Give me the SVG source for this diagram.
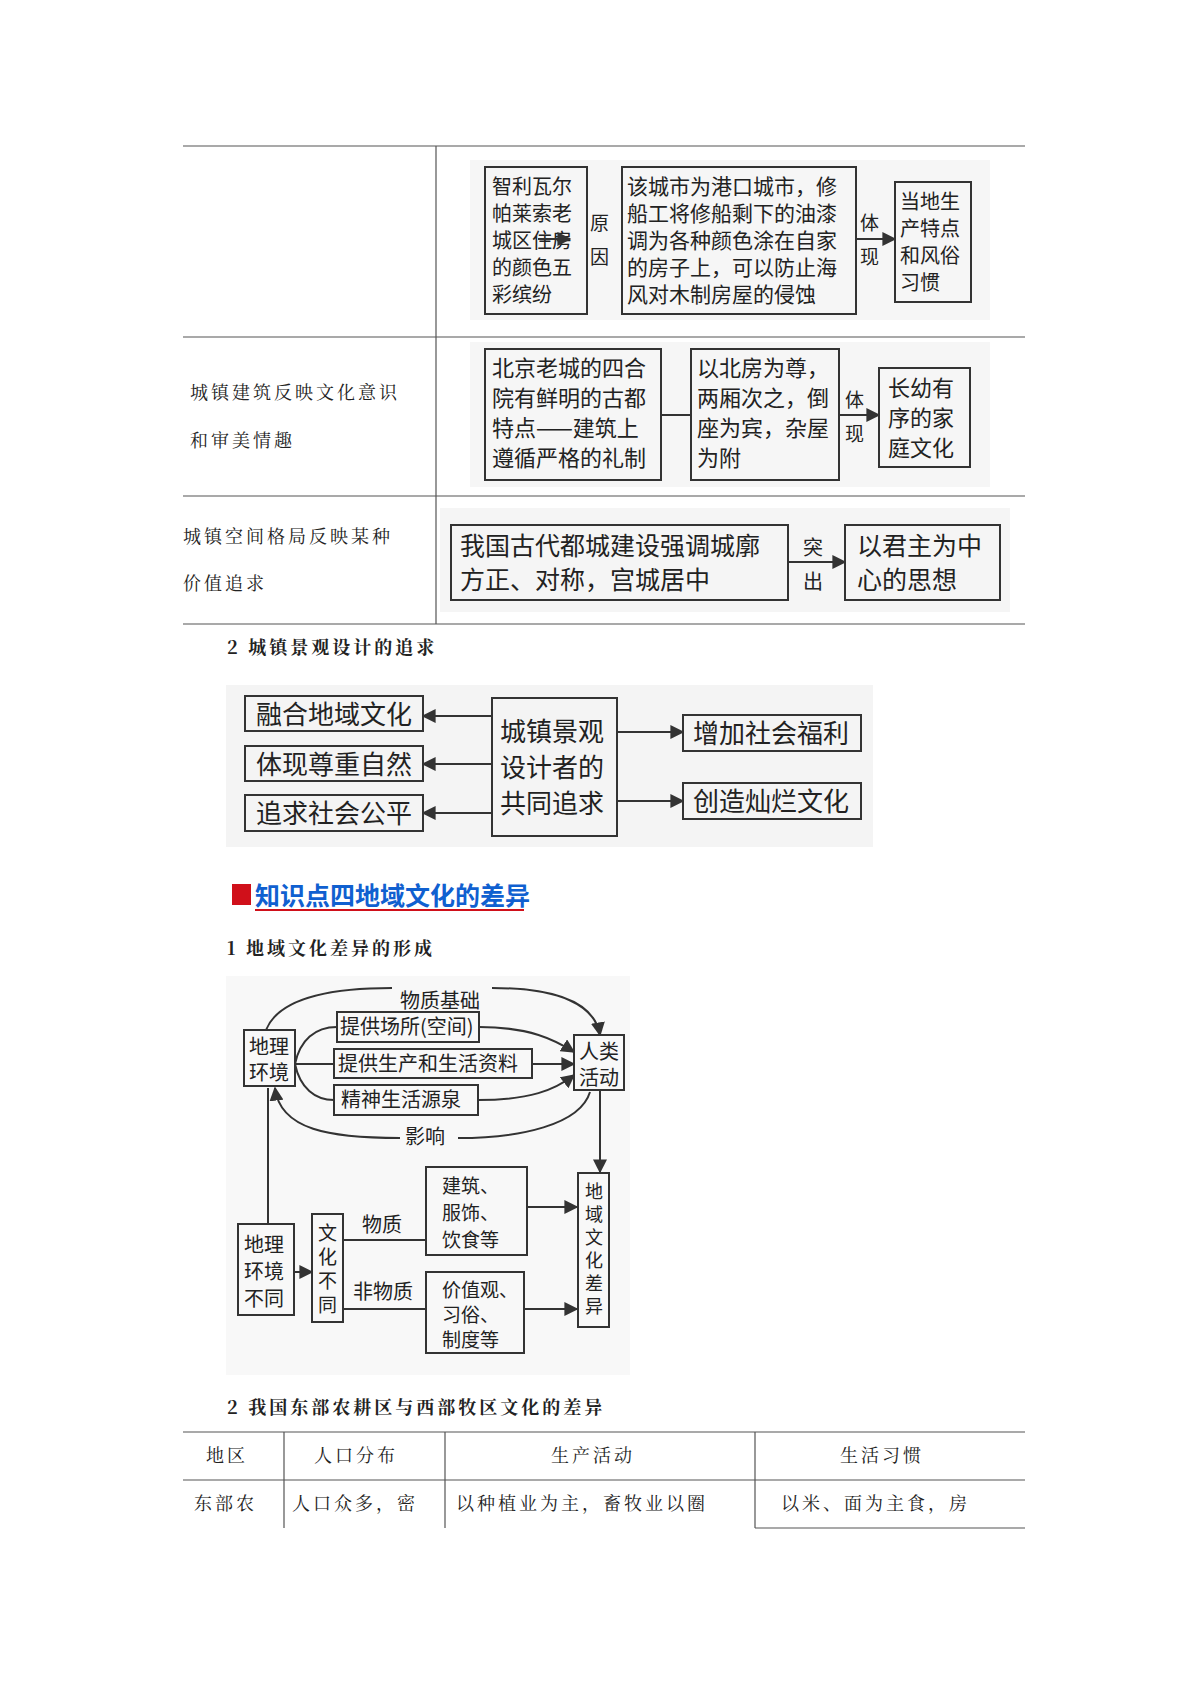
<svg xmlns="http://www.w3.org/2000/svg" width="1200" height="1697" viewBox="0 0 1200 1697">
<defs>
<style>
text{font-family:"Noto Sans CJK SC","Noto Sans",sans-serif;fill:#222}
.b{fill:none;stroke:#333;stroke-width:2}
.t{stroke:#555;stroke-width:1.2;fill:none}
.c{stroke:#333;stroke-width:2;fill:none}
.m{font-size:18px;letter-spacing:3px;font-family:"Noto Serif CJK SC","Noto Sans CJK SC",serif}
</style>
<marker id="a" viewBox="0 0 10 10" refX="9" refY="5" markerWidth="7" markerHeight="7" orient="auto"><path d="M0,0L10,5L0,10z" fill="#333"/></marker>
</defs>
<rect width="1200" height="1697" fill="#fff"/>
<g id="table1">
<path class="t" d="M183,146H1025M436,146V624M183,337H1025M183,496H1025M183,624H1025"/>
<text class="m" x="190" y="399">城镇建筑反映文化意识</text>
<text class="m" x="190" y="447">和审美情趣</text>
<text class="m" x="183" y="543">城镇空间格局反映某种</text>
<text class="m" x="183" y="590">价值追求</text>
</g>
<g id="bg"><rect x="470" y="160" width="520" height="160" fill="#f6f6f6"/><rect x="470" y="342" width="520" height="145" fill="#f6f6f6"/><rect x="440" y="508" width="570" height="104" fill="#f5f5f5"/><rect x="226" y="685" width="647" height="162" fill="#f4f4f4"/><rect x="226" y="976" width="404" height="399" fill="#f8f8f8"/></g>
<g id="r1" font-size="20">
<rect class="b" x="485" y="167" width="102" height="147"/>
<text x="492" y="194">智利瓦尔</text><text x="492" y="221">帕莱索老</text><text x="492" y="248">城区住房</text><text x="492" y="275">的颜色五</text><text x="492" y="302">彩缤纷</text>
<text x="590" y="230" font-size="19">原</text><text x="590" y="264" font-size="19">因</text>
<rect class="b" x="622" y="167" width="234" height="147"/>
<text x="627" y="194" font-size="21">该城市为港口城市，修</text><text x="627" y="221" font-size="21">船工将修船剩下的油漆</text><text x="627" y="248" font-size="21">调为各种颜色涂在自家</text><text x="627" y="275" font-size="21">的房子上，可以防止海</text><text x="627" y="302" font-size="21">风对木制房屋的侵蚀</text>
<text x="860" y="230" font-size="19">体</text><text x="860" y="264" font-size="19">现</text>
<rect class="b" x="895" y="182" width="76" height="120"/>
<text x="900" y="209">当地生</text><text x="900" y="236">产特点</text><text x="900" y="263">和风俗</text><text x="900" y="290">习惯</text>
</g>
<g id="r2" font-size="22">
<rect class="b" x="485" y="349" width="176" height="131"/>
<text x="492" y="376">北京老城的四合</text><text x="492" y="406">院有鲜明的古都</text><text x="492" y="436">特点——建筑上</text><text x="492" y="466">遵循严格的礼制</text>
<rect class="b" x="691" y="349" width="148" height="131"/>
<text x="697" y="376">以北房为尊，</text><text x="697" y="406">两厢次之，倒</text><text x="697" y="436">座为宾，杂屋</text><text x="697" y="466">为附</text>
<text x="845" y="407" font-size="19">体</text><text x="845" y="441" font-size="19">现</text>
<rect class="b" x="879" y="368" width="91" height="99"/>
<text x="888" y="396">长幼有</text><text x="888" y="426">序的家</text><text x="888" y="456">庭文化</text>
</g>
<g id="r3" font-size="25">
<rect class="b" x="451" y="525" width="337" height="75"/>
<text x="460" y="555">我国古代都城建设强调城廓</text><text x="460" y="589">方正、对称，宫城居中</text>
<text x="803" y="555" font-size="20">突</text><text x="803" y="589" font-size="20">出</text>
<rect class="b" x="845" y="525" width="155" height="75"/>
<text x="857" y="555">以君主为中</text><text x="857" y="589">心的思想</text>
</g>
<text class="m" x="227" y="654" font-weight="bold">2 城镇景观设计的追求</text>
<g id="d2" font-size="26">
<rect class="b" x="245" y="696" width="178" height="35"/><text x="256" y="724">融合地域文化</text>
<rect class="b" x="245" y="746" width="178" height="35"/><text x="256" y="774">体现尊重自然</text>
<rect class="b" x="245" y="795" width="178" height="36"/><text x="256" y="823">追求社会公平</text>
<rect class="b" x="492" y="698" width="125" height="138"/><text x="500" y="741">城镇景观</text><text x="500" y="777">设计者的</text><text x="500" y="813">共同追求</text>
<rect class="b" x="683" y="715" width="178" height="36"/><text x="693" y="743">增加社会福利</text>
<rect class="b" x="683" y="783" width="178" height="36"/><text x="693" y="811">创造灿烂文化</text>
</g>
<g id="heading">
<rect x="232" y="884" width="19" height="21" fill="#d0101a"/>
<text x="255" y="905" font-size="25" font-weight="bold" style="fill:#1060d0">知识点四地域文化的差异</text>
<path d="M255,910H524" stroke="#d0101a" stroke-width="2"/>
</g>
<text class="m" x="227" y="955" font-weight="bold">1 地域文化差异的形成</text>
<g id="d3" font-size="20">
<rect class="b" x="244" y="1030" width="51" height="56"/><text x="249" y="1054">地理</text><text x="249" y="1080">环境</text>
<rect class="b" x="574" y="1035" width="50" height="55"/><text x="579" y="1059">人类</text><text x="579" y="1085">活动</text>
<rect class="b" x="337" y="1012" width="142" height="30"/><text x="340" y="1034">提供场所(空间)</text>
<rect class="b" x="334" y="1049" width="198" height="29"/><text x="338" y="1071">提供生产和生活资料</text>
<rect class="b" x="334" y="1085" width="144" height="30"/><text x="341" y="1107">精神生活源泉</text>
<text x="400" y="1008">物质基础</text>
<text x="405" y="1144">影响</text>
<rect class="b" x="578" y="1173" width="31" height="154"/>
<g font-size="18"><text x="585" y="1198">地</text><text x="585" y="1221">域</text><text x="585" y="1244">文</text><text x="585" y="1267">化</text><text x="585" y="1290">差</text><text x="585" y="1313">异</text></g>
<rect class="b" x="238" y="1224" width="56" height="91"/><text x="244" y="1252">地理</text><text x="244" y="1279">环境</text><text x="244" y="1306">不同</text>
<rect class="b" x="312" y="1214" width="31" height="108"/><g font-size="19"><text x="318" y="1240">文</text><text x="318" y="1264">化</text><text x="318" y="1288">不</text><text x="318" y="1312">同</text></g>
<text x="362" y="1232">物质</text><text x="353" y="1299">非物质</text>
<g font-size="19"><rect class="b" x="426" y="1167" width="101" height="88"/><text x="442" y="1193">建筑、</text><text x="442" y="1220">服饰、</text><text x="442" y="1247">饮食等</text>
<rect class="b" x="426" y="1272" width="98" height="81"/><text x="442" y="1297">价值观、</text><text x="442" y="1322">习俗、</text><text x="442" y="1347">制度等</text></g>
</g>
<g id="connectors">
<path class="c" d="M538,239H570" marker-end="url(#a)"/>
<path class="c" d="M856,239H895" marker-end="url(#a)"/>
<path class="c" d="M661,415H691"/>
<path class="c" d="M839,415H879" marker-end="url(#a)"/>
<path class="c" d="M788,562H845" marker-end="url(#a)"/>
<path class="c" d="M492,716H423" marker-end="url(#a)"/>
<path class="c" d="M492,764H423" marker-end="url(#a)"/>
<path class="c" d="M492,813H423" marker-end="url(#a)"/>
<path class="c" d="M617,732H683" marker-end="url(#a)"/>
<path class="c" d="M617,801H683" marker-end="url(#a)"/>
<path class="c" d="M266,1030C280,995 340,988 392,988M492,988C560,988 595,1005 600,1035" marker-end="url(#a)"/>
<path class="c" d="M295,1064C300,1040 315,1027 337,1027M479,1027C530,1027 555,1040 574,1052" marker-end="url(#a)"/>
<path class="c" d="M295,1064H334M532,1064H574" marker-end="url(#a)"/>
<path class="c" d="M295,1064C300,1088 315,1100 334,1100M478,1100C530,1100 555,1090 574,1075" marker-end="url(#a)"/>
<path class="c" d="M400,1138C330,1138 280,1130 275,1088" marker-end="url(#a)"/>
<path class="c" d="M590,1092C580,1125 520,1138 458,1138"/>
<path class="c" d="M600,1090V1172" marker-end="url(#a)"/>
<path class="c" d="M268,1224V1088"/>
<path class="c" d="M294,1272H312" marker-end="url(#a)"/>
<path class="c" d="M343,1240H426M343,1309H426"/>
<path class="c" d="M527,1207H577" marker-end="url(#a)"/>
<path class="c" d="M524,1309H577" marker-end="url(#a)"/>
</g>
<text class="m" x="227" y="1414" font-weight="bold">2 我国东部农耕区与西部牧区文化的差异</text>
<g id="table2">
<path class="t" d="M183,1432H1025M183,1480H1025M755,1528H1025M284,1432V1528M445,1432V1528M755,1432V1528"/>
<text class="m" x="206" y="1462">地区</text><text class="m" x="314" y="1462">人口分布</text><text class="m" x="551" y="1462">生产活动</text><text class="m" x="840" y="1462">生活习惯</text>
<text class="m" x="194" y="1510">东部农</text><text class="m" x="292" y="1510">人口众多，密</text><text class="m" x="456" y="1510">以种植业为主，畜牧业以圈</text><text class="m" x="781" y="1510">以米、面为主食，房</text>
</g>
</svg>
